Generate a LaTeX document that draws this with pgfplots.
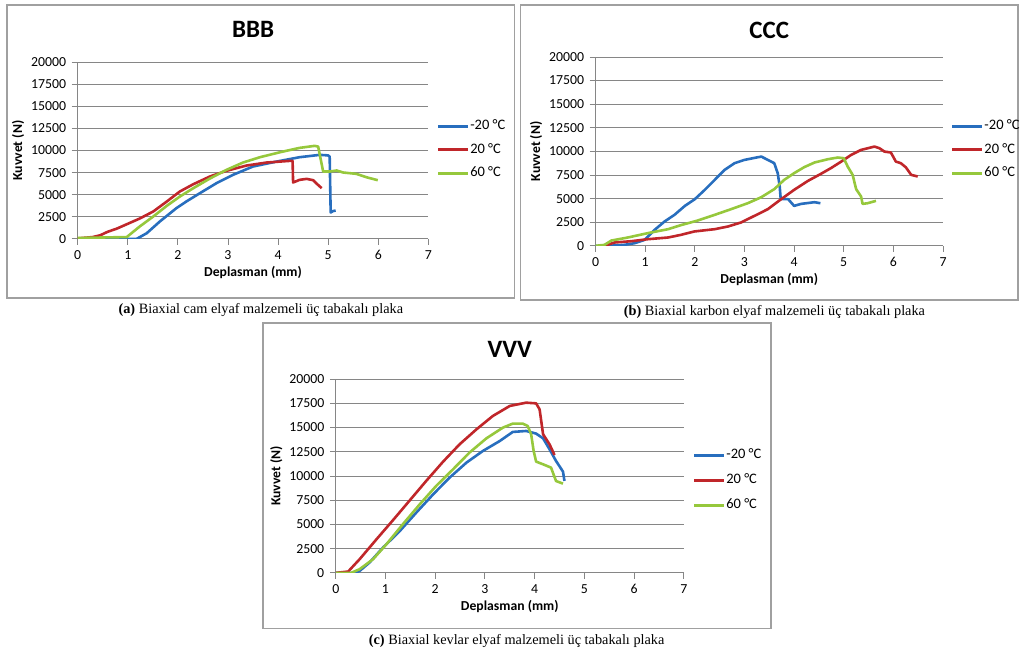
\documentclass[border=0pt]{standalone}
\usepackage{fontspec}
\setmainfont{Carlito}
\newfontfamily\capfont{Liberation Serif}
\usepackage{pgfplots}
\pgfplotsset{compat=1.18}

\definecolor{cblue}{RGB}{40,110,190}
\definecolor{cred}{RGB}{192,38,42}
\definecolor{cgreen}{RGB}{150,200,60}
\definecolor{gridgray}{RGB}{134,134,134}
\definecolor{framegray}{RGB}{160,160,160}

\pgfplotsset{
  panel/.style={
    scale only axis, anchor=south west,
    xmin=0, xmax=7, ymin=0, ymax=20000,
    xtick={0,...,7}, ytick={0,2500,...,20000},
    scaled y ticks=false,
    axis x line*=bottom, axis y line*=left,
    axis line style={draw=gridgray, line width=0.9pt},
    ymajorgrids, grid style={draw=gridgray, line width=0.9pt},
    tick align=outside, major tick length=6pt,
    tick style={draw=gridgray, line width=0.9pt},
    ticklabel style={font=\fontsize{13.8}{16}\selectfont},
    /pgf/number format/1000 sep={},
    /pgf/number format/assume math mode=true,
    yticklabel style={xshift=-2pt},
    xticklabel style={yshift=-2pt},
    xlabel={Deplasman (mm)}, ylabel={Kuvvet (N)},
    label style={font=\fontsize{13.7}{16}\bfseries},
    title style={font=\fontsize{25}{28}\bfseries, at={(0.5,1)}, anchor=center},
    every axis plot/.append style={line width=2.6pt, line join=round, no markers},
    legend style={draw=none, fill=none, anchor=west, inner sep=0pt, outer sep=0pt,
      row sep=9.5pt, font=\fontsize{14.5}{16}\selectfont,
      nodes={inner sep=0.5pt, text height=10pt, text depth=3pt},
      /tikz/every odd column/.style={column sep=0pt}},
    legend cell align=left,
    legend image code/.code={\draw[#1, line width=3pt] (0pt,0pt) -- (30pt,0pt);},
  }
}

\begin{document}
\begin{tikzpicture}
\path (0,0) rectangle (1020pt,654pt);

% frames
\draw[framegray, line width=1.5pt] (7pt,356pt) rectangle (515pt,649pt);
\draw[framegray, line width=1.5pt] (521pt,354pt) rectangle (1018.5pt,649pt);
\draw[framegray, line width=1.5pt] (263pt,25pt) rectangle (771.5pt,331pt);

% (a)
\begin{axis}[panel, at={(77.7pt,415pt)}, width=351pt, height=176.7pt,
  title={BBB}, title style={yshift=27pt},
  legend style={at={(1.024,0.504)}}]
\addplot[cblue] coordinates {(0,0) (0.5,0) (1.0,0) (1.18,0) (1.38,640) (1.64,1960) (1.97,3470) (2.17,4230) (2.44,5170) (2.77,6300) (3.1,7245) (3.5,8190) (3.97,8750) (4.43,9245) (4.83,9510) (5.0,9450) (5.03,9300) (5.05,2980) (5.1,3150) (5.15,3200)};
\addlegendentry{-20 °C}
\addplot[cred] coordinates {(0,50) (0.3,200) (0.45,400) (0.6,800) (0.78,1150) (0.98,1650) (1.24,2300) (1.51,3100) (1.78,4230) (2.04,5360) (2.31,6190) (2.64,7060) (2.97,7700) (3.37,8300) (3.77,8640) (4.24,8830) (4.29,8830) (4.3,6380) (4.43,6680) (4.57,6790) (4.7,6640) (4.76,6300) (4.87,5740)};
\addlegendentry{20 °C}
\addplot[cgreen] coordinates {(0,100) (0.5,150) (0.98,200) (1.24,1400) (1.51,2530) (1.78,3740) (2.04,4790) (2.31,5740) (2.64,6830) (2.97,7810) (3.3,8640) (3.64,9245) (4.04,9810) (4.43,10300) (4.73,10530) (4.8,10450) (4.9,7620) (5.03,7620) (5.17,7740) (5.3,7510) (5.56,7360) (5.76,6980) (5.99,6640)};
\addlegendentry{60 °C}
\end{axis}

% (b)
\begin{axis}[panel, at={(596pt,408pt)}, width=347.7pt, height=189pt,
  title={CCC}, title style={yshift=21pt},
  legend style={at={(1.023,0.508)}}]
\addplot[cblue] coordinates {(0,0) (0.25,0) (0.58,100) (0.79,280) (0.99,635) (1.19,1690) (1.39,2575) (1.59,3280) (1.8,4230) (2.0,4940) (2.2,5925) (2.4,6980) (2.6,8040) (2.8,8750) (3.0,9100) (3.2,9310) (3.34,9450) (3.47,9100) (3.6,8750) (3.67,7690) (3.71,6280) (3.73,4970) (3.88,4940) (4.0,4230) (4.14,4440) (4.41,4620) (4.53,4510)};
\addlegendentry{-20 °C}
\addplot[cred] coordinates {(0.18,0) (0.38,350) (0.72,490) (1.05,700) (1.46,880) (1.72,1160) (1.99,1520) (2.4,1760) (2.67,2050) (2.93,2470) (3.2,3170) (3.47,3880) (3.74,4940) (4.0,5925) (4.28,6880) (4.54,7620) (4.74,8220) (4.95,8920) (5.15,9630) (5.35,10160) (5.62,10510) (5.72,10330) (5.82,9980) (5.95,9880) (6.05,8920) (6.15,8750) (6.25,8320) (6.36,7510) (6.49,7340)};
\addlegendentry{20 °C}
\addplot[cgreen] coordinates {(0,0) (0.18,100) (0.32,560) (0.65,880) (1.05,1340) (1.46,1760) (1.72,2190) (2.06,2680) (2.4,3280) (2.73,3880) (3.07,4520) (3.34,5150) (3.6,6000) (3.8,6980) (4.0,7690) (4.2,8320) (4.41,8820) (4.68,9170) (4.88,9350) (5.0,9280) (5.08,8390) (5.18,7510) (5.25,6000) (5.35,5220) (5.38,4440) (5.48,4510) (5.65,4760)};
\addlegendentry{60 °C}
\end{axis}

% (c)
\begin{axis}[panel, at={(336pt,80.7pt)}, width=348.3pt, height=194pt,
  title={VVV}, title style={yshift=24pt},
  legend style={at={(1.026,0.479)}, row sep=11pt}]
\addplot[cblue] coordinates {(0,0) (0.38,0) (0.48,200) (0.68,1070) (0.95,2610) (1.29,4330) (1.62,6220) (1.96,8110) (2.29,9830) (2.63,11380) (2.96,12580) (3.3,13610) (3.56,14540) (3.83,14640) (4.03,14370) (4.17,13880) (4.3,12750) (4.43,11550) (4.57,10450) (4.6,9480)};
\addlegendentry{-20 °C}
\addplot[cred] coordinates {(0,0) (0.25,140) (0.48,1410) (0.82,3470) (1.15,5430) (1.49,7490) (1.82,9490) (2.16,11480) (2.49,13260) (2.83,14810) (3.16,16190) (3.5,17220) (3.83,17560) (4.03,17490) (4.1,16870) (4.17,14300) (4.3,13260) (4.4,12160)};
\addlegendentry{20 °C}
\addplot[cgreen] coordinates {(0,0) (0.31,0) (0.48,380) (0.75,1410) (1.02,2960) (1.35,5020) (1.69,7080) (2.02,8970) (2.36,10690) (2.69,12410) (3.03,13880) (3.36,14980) (3.56,15400) (3.76,15400) (3.86,15160) (3.93,14300) (3.98,12580) (4.03,11480) (4.17,11200) (4.33,10860) (4.38,10170) (4.43,9480) (4.57,9210)};
\addlegendentry{60 °C}
\end{axis}

% captions
\node[font=\capfont\fontsize{14.3}{16}\selectfont] at (261pt,344pt) {\textbf{(a)} Biaxial cam elyaf malzemeli üç tabakalı plaka};
\node[font=\capfont\fontsize{14.3}{16}\selectfont] at (775pt,342pt) {\textbf{(b)} Biaxial karbon elyaf malzemeli üç tabakalı plaka};
\node[font=\capfont\fontsize{14.3}{16}\selectfont] at (517pt,13pt) {\textbf{(c)} Biaxial kevlar elyaf malzemeli üç tabakalı plaka};
\end{tikzpicture}
\end{document}
